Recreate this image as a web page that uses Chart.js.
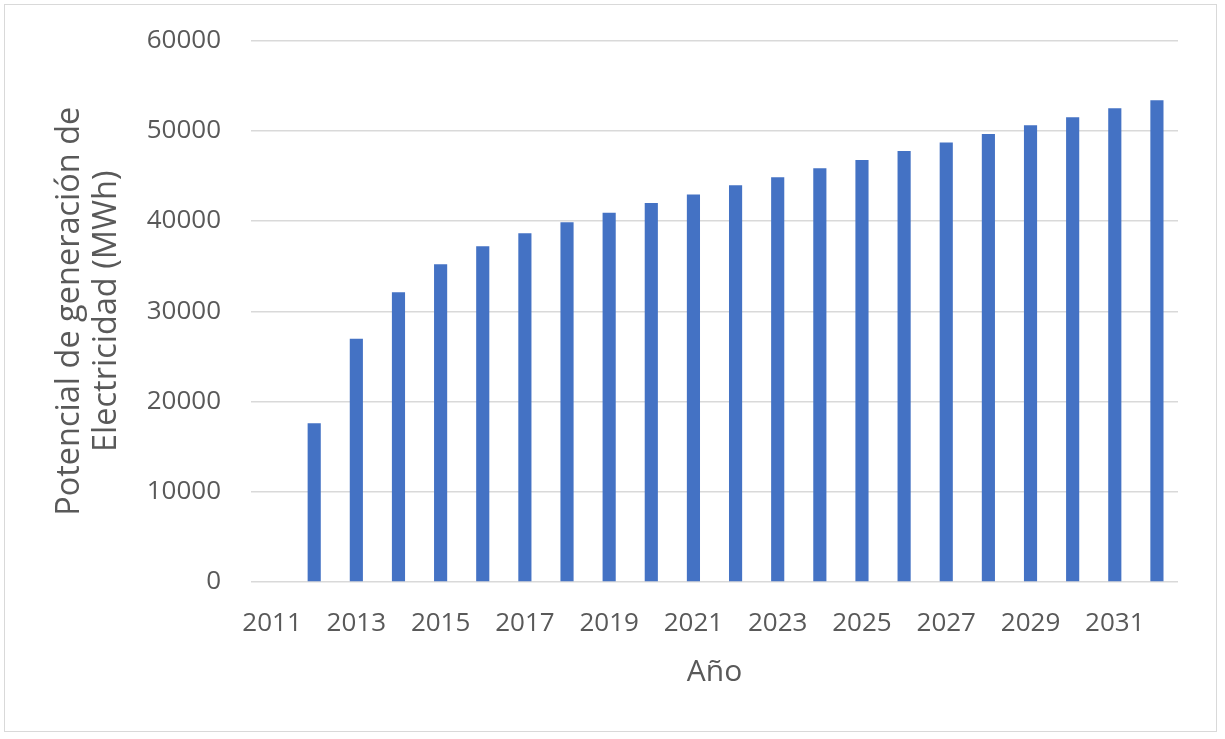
<!DOCTYPE html>
<html>
<head>
<meta charset="utf-8">
<script src="https://cdn.jsdelivr.net/npm/chart.js@4.4.2/dist/chart.umd.min.js"></script>
<style>
  html, body { margin: 0; padding: 0; background: #fff; }
  #marco {
    position: absolute; left: 4px; top: 4px;
    width: 1213px; height: 728px;
    border: 1.5px solid #d9d9d9; box-sizing: border-box;
  }
  #marco canvas { display: block; }
</style>
</head>
<body>
<div id="marco"><canvas id="grafico"></canvas></div>
<script>
// Datos
const anios = ['2011', '2012', '2013', '2014', '2015', '2016', '2017', '2018', '2019', '2020', '2021',
  '2022', '2023', '2024', '2025', '2026', '2027', '2028', '2029', '2030', '2031', '2032'];
const potencialMWh = [null, 17600, 26950, 32100, 35200, 37200, 38650, 39850, 40920, 42000, 42950,
  43950, 44850, 45850, 46750, 47750, 48700, 49650, 50600, 51500, 52480, 53370];
const ticksY = [0, 10000, 20000, 30000, 40000, 50000, 60000];

const gris = '#595959';
const fuente = "'Open Sans', sans-serif";

document.addEventListener('DOMContentLoaded', function() {
  const ctx = document.getElementById('grafico').getContext('2d');
  new Chart(ctx, {
    type: 'bar',
    data: {
      labels: anios,
      datasets: [{
        label: 'Potencial de generación de Electricidad (MWh)',
        data: potencialMWh,
        backgroundColor: '#4472C4',
        borderWidth: 0,
        barPercentage: 0.6,
        categoryPercentage: 0.52
      }]
    },
    options: {
      responsive: true,
      maintainAspectRatio: false,
      animation: false,
      layout: { padding: { top: 35.5, right: 38, bottom: 41, left: 46 } },
      plugins: {
        legend: { display: false },
        tooltip: { enabled: false }
      },
      scales: {
        x: {
          afterFit: (axis) => { axis.height = 108; },
          grid: { display: false },
          border: { display: false },
          ticks: {
            color: gris,
            font: { family: fuente, size: 26 },
            autoSkip: false,
            maxRotation: 0,
            padding: 18,
            callback: (val, i) => (i % 2 === 0 ? anios[i] : '')
          },
          title: {
            display: true, text: 'Año', color: gris,
            font: { family: fuente, size: 30 },
            padding: { top: 5, bottom: 0 }
          }
        },
        y: {
          min: 0,
          max: 60000,
          afterFit: (axis) => {
            axis.width = 200;
            axis.paddingTop = 0;
            axis.paddingBottom = 0;
          },
          afterBuildTicks: (axis) => { axis.ticks = ticksY.map(v => ({ value: v })); },
          grid: { color: '#d9d9d9', lineWidth: 1.5, drawTicks: false },
          border: { display: false },
          ticks: {
            color: gris,
            font: { family: fuente, size: 26 },
            padding: 30,
            callback: (v) => String(v)
          },
          title: {
            display: true,
            text: ['Potencial de generación de', 'Electricidad (MWh)'],
            color: gris,
            font: { family: fuente, size: 32.5, lineHeight: 1.15 },
            padding: { top: 0, bottom: 22 }
          }
        }
      }
    }
  });
});
</script>
</body>
</html>
